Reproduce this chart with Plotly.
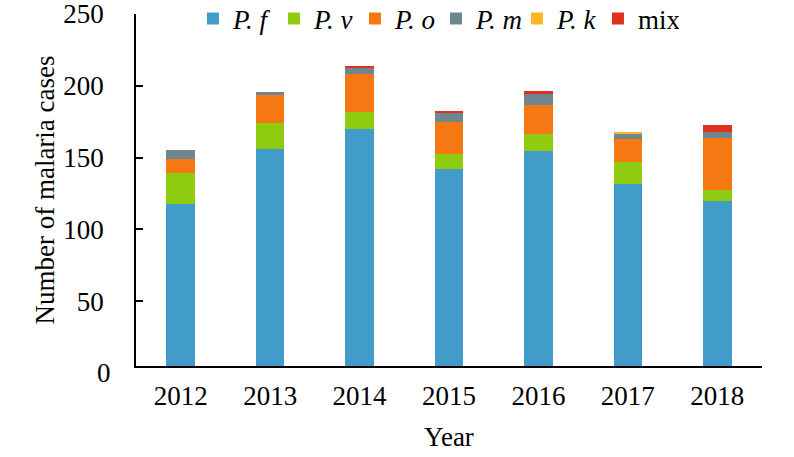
import plotly.graph_objects as go

years = ["2012", "2013", "2014", "2015", "2016", "2017", "2018"]
pf = [118, 156, 170, 142, 154.5, 131.5, 120]
pv = [21, 18, 11.5, 10.5, 12, 15.5, 7.5]
po = [10, 19.5, 27, 22.5, 20, 16, 36.5]
pm = [6.5, 2, 4.5, 6.5, 8, 4, 3.5]
pk = [0, 0, 0, 0, 0, 0.8, 0]
mix = [0, 0, 1, 1.2, 1.8, 0, 5.3]

names = ["<i>P. f</i>", "<i>P. v</i>", "<i>P. o</i>", "<i>P. m</i>", "<i>P. k</i>", "mix"]
series = [pf, pv, po, pm, pk, mix]
colors = ["#419CCA", "#8FCC10", "#F57812", "#6E8690", "#F8B622", "#DF3020"]

y_ticks = [50, 100, 150, 200, 250]
y_min, y_max = 4.9, 250

H = 457
b = 91
area_h = H - b
dom_top = (area_h - 14) / area_h

fig = go.Figure()
for n, s, c in zip(names, series, colors):
    fig.add_trace(go.Bar(x=years, y=s, name=n, marker=dict(color=c, line=dict(width=0))))

font = "Liberation Serif, Times New Roman, serif"
fs = 27
fig.update_layout(
    barmode="stack",
    bargap=0.68,
    width=794, height=H,
    margin=dict(l=136, r=32, t=0, b=b, autoexpand=False),
    plot_bgcolor="white", paper_bgcolor="white",
    font=dict(family=font, size=fs, color="black"),
    showlegend=True,
    legend=dict(orientation="h", x=0.091, y=(area_h - 19) / area_h, xanchor="left",
                yanchor="middle", traceorder="normal", font=dict(size=fs),
                entrywidth=36, entrywidthmode="pixels", itemwidth=30,
                bgcolor="rgba(0,0,0,0)", itemclick=False),
    xaxis=dict(showline=True, linecolor="black", linewidth=1.5, ticks="",
               automargin=False, ticklabeloverflow="allow",
               tickfont=dict(size=fs), ticklabelstandoff=5,
               title=dict(text="Year", standoff=17, font=dict(size=fs))),
    yaxis=dict(range=[y_min, y_max], domain=[0, dom_top], showline=True,
               linecolor="black", linewidth=1.5, automargin=False,
               ticklabeloverflow="allow",
               ticks="inside", ticklen=7, tickwidth=1.5, tickcolor="black",
               tickvals=y_ticks, tickfont=dict(size=fs), showgrid=False,
               zeroline=False, ticklabelstandoff=25,
               title=dict(text="Number of malaria cases", standoff=1, font=dict(size=fs))),
)
fig.add_annotation(x=0, xref="paper", xanchor="right", xshift=-23,
                   y=dom_top * (0 - y_min) / (y_max - y_min), yref="paper",
                   yanchor="middle", text="0", showarrow=False, font=dict(size=fs))
fig.write_html("out.html", config={"displayModeBar": False},
               post_script="document.body.style.margin='0';")
